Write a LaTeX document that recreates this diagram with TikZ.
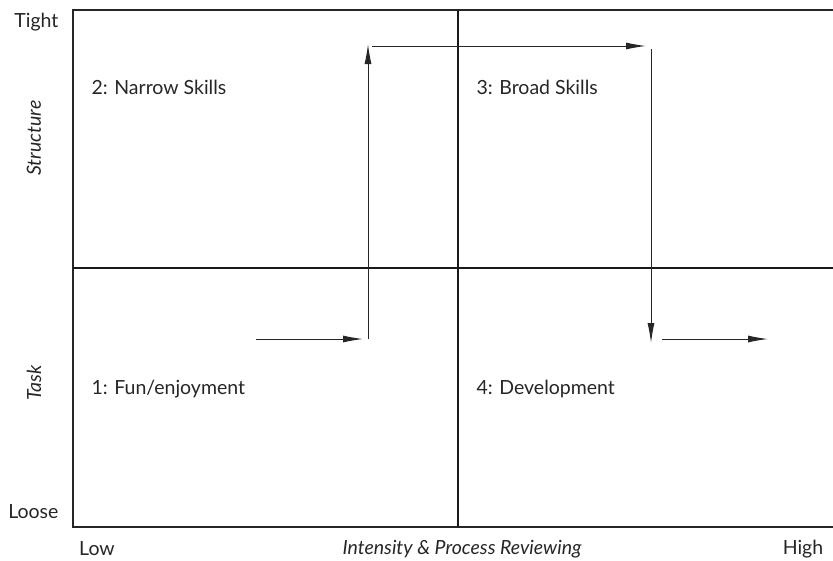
\documentclass[tikz,border=0pt]{standalone}
\usepackage{fontspec}
\setmainfont{Lato}
\usepackage{tikz}
\usetikzlibrary{arrows.meta}
\tikzset{
  axisline/.style={line width=1.3pt, black!85},
  midline/.style={line width=1.5pt, black!90},
  flow/.style={line width=1pt, black!85, -{Latex[length=20pt,width=7pt]}},
  quad/.style={anchor=west, font=\fontsize{19.5}{22}\selectfont, black!85},
  axlabel/.style={font=\fontsize{19.5}{22}\selectfont, black!85}
}

\begin{document}
\begin{tikzpicture}[x=1pt,y=-1pt]
    \useasboundingbox (0,0) rectangle (833,560);

    % frame and axes
    \draw[axisline] (833,10) -- (73,10) -- (73,527) -- (833,527);
    \draw[midline] (73,268) -- (833,268);
    \draw[midline] (458,10) -- (458,527);

    % axis labels
    \node[axlabel, anchor=east] (tight) at (62,22) {Tight};
    \node[axlabel, anchor=east] (loose) at (62,512) {Loose};
    \node[axlabel, rotate=90] (structure) at (34,138) {\itshape Structure};
    \node[axlabel, rotate=90] (task) at (34,383) {\itshape Task};
    \node[axlabel] (low) at (97,549) {Low};
    \node[axlabel] (intensity) at (462,549) {\itshape Intensity \& Process Reviewing};
    \node[axlabel] (high) at (803,549) {High};

    % quadrant labels
    \node[quad] (narrow) at (88,87) {2: Narrow Skills};
    \node[quad] (broad) at (473,87) {3: Broad Skills};
    \node[quad] (fun) at (88,389) {1: Fun/enjoyment};
    \node[quad] (develop) at (473,389) {4: Development};

    % path of arrows
    \coordinate (a1) at (256,339);
    \coordinate (a2) at (363,339);
    \coordinate (b1) at (368,339);
    \coordinate (b2) at (368,44);
    \coordinate (c1) at (372,46);
    \coordinate (c2) at (646,46);
    \coordinate (d1) at (651,49);
    \coordinate (d2) at (651,343);
    \coordinate (e1) at (662,339);
    \coordinate (e2) at (768,339);

    \draw[flow] (a1) -- (a2);
    \draw[flow] (b1) -- (b2);
    \draw[flow] (c1) -- (c2);
    \draw[flow] (d1) -- (d2);
    \draw[flow] (e1) -- (e2);
\end{tikzpicture}
\end{document}
